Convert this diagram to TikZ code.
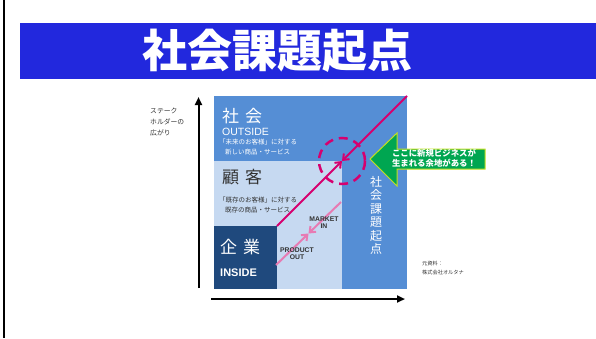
\documentclass[tikz,border=0pt]{standalone}
\usepackage{fontspec}
\setmainfont{Liberation Sans}
\newfontfamily\jpfont{Noto Sans CJK JP}
\usetikzlibrary{arrows.meta}
\usepackage{xcolor}

\definecolor{titleblue}{RGB}{34,40,221}
\definecolor{midblue}{RGB}{85,142,213}
\definecolor{paleblue}{RGB}{198,217,241}
\definecolor{navyblue}{RGB}{31,73,125}
\definecolor{magline}{RGB}{214,0,111}
\definecolor{pinkline}{RGB}{231,123,179}
\definecolor{calloutgreen}{RGB}{0,166,81}
\definecolor{calloutedge}{RGB}{196,224,31}
\definecolor{darktext}{RGB}{51,51,51}

\begin{document}
\begin{tikzpicture}[x=1pt,y=-1pt,
        jp/.style={font=\jpfont\fontsize{#1}{#1}\selectfont, inner sep=0pt},
        jpbold/.style={font=\jpfont\bfseries\fontsize{#1}{#1}\selectfont, inner sep=0pt},
        lat/.style={font=\fontsize{#1}{#1}\selectfont, inner sep=0pt},
        latbold/.style={font=\bfseries\fontsize{#1}{#1}\selectfont, inner sep=0pt},
        axis/.style={line width=2pt, -{Triangle[length=8pt,width=7pt]}},
        bigarrow/.style={draw=magline, line width=2pt, -{Straight Barb[length=5pt,width=8pt]}},
        smallarrow/.style={draw=pinkline, line width=2pt, -{Straight Barb[length=5pt,width=8pt]}}
    ]
\useasboundingbox (0,0) rectangle (596,338);

% slide border and title
\draw[line width=1.5pt] (4,0) -- (4,338);
\fill[titleblue] (20,23) rectangle (596,79);
\node[jpbold=45, text=white] (title) at (277.5,51) {社会課題起点};

% areas
\fill[midblue] (214,96) rectangle (407,289);
\fill[paleblue] (214,161) rectangle (342,289);
\fill[navyblue] (214,226) rectangle (277,289);

\node[jp=17, text=white, anchor=west] (shakai) at (222,116) {社\hspace{6pt}会};
\node[lat=10.5, text=white, anchor=west] (outside) at (222,131.5) {OUTSIDE};
\node[jp=6.5, text=white, anchor=west] (mirai) at (219,142.5) {「未来のお客様」に対する};
\node[jp=6.5, text=white, anchor=west] (atarashii) at (225,152.5) {新しい商品・サービス};

\node[jp=17, text=darktext, anchor=west] (kokyaku) at (222,177.5) {顧\hspace{6pt}客};
\node[jp=6.5, text=darktext, anchor=west] (kison) at (219,200) {「既存のお客様」に対する};
\node[jp=6.5, text=darktext, anchor=west] (kisonshohin) at (225,210.5) {既存の商品・サービス};

\node[jp=17, text=white, anchor=west] (kigyo) at (220,247.5) {企\hspace{6pt}業};
\node[latbold=11, text=white, anchor=west] (inside) at (220,272.5) {INSIDE};

\node[text=white, align=center, inner sep=0pt, font=\jpfont\fontsize{12}{13.5}\selectfont] (kadai) at (376,215.5)
    {社\\会\\課\\題\\起\\点};

% magenta arrows
\coordinate (kcorner) at (277,226);
\coordinate (topright) at (407,96);
\coordinate (meet) at (342,161);
\draw[bigarrow] (kcorner) -- (meet);
\draw[bigarrow] (topright) -- (meet);
\draw[magline, line width=2.5pt, dash pattern=on 9pt off 6pt] (meet) circle (23);

\coordinate (plow) at (276,265);
\coordinate (phigh) at (341,202);
\coordinate (pmid) at (308.5,233.5);
\draw[smallarrow] (plow) -- (pmid);
\draw[smallarrow] (phigh) -- (pmid);

\node[latbold=6.8, align=center, text=darktext] (market) at (324,223) {MARKET\\IN};
\node[latbold=6.8, align=center, text=darktext] (product) at (297,254) {PRODUCT\\OUT};

% callout
\draw[fill=calloutgreen, draw=calloutedge, line width=1pt]
  (370,159) -- (397,133) -- (397,149) -- (485,149) -- (485,169) -- (397,169) -- (397,186) -- cycle;
\node[text=white, align=center, inner sep=0pt, font=\jpfont\bfseries\fontsize{8.4}{10}\selectfont] (niche) at (434,158.5)
    {ここに新規ビジネスが\\生まれる余地がある！};

% axes
\coordinate (vbottom) at (198.5,288);
\coordinate (vtop) at (198.5,97);
\coordinate (hleft) at (211,299);
\coordinate (hright) at (405,299);
\draw[axis] (vbottom) -- (vtop);
\draw[axis] (hleft) -- (hright);

\node[text=darktext, align=left, anchor=north west, inner sep=0pt, font=\jpfont\fontsize{6.8}{11}\selectfont] (stake) at (150,108)
    {ステーク\\ホルダーの\\広がり};
\node[text=darktext, align=left, anchor=north west, inner sep=0pt, font=\jpfont\fontsize{5.2}{9}\selectfont] (source) at (422,261)
    {元資料：\\株式会社オルタナ};

\end{tikzpicture}
\end{document}
